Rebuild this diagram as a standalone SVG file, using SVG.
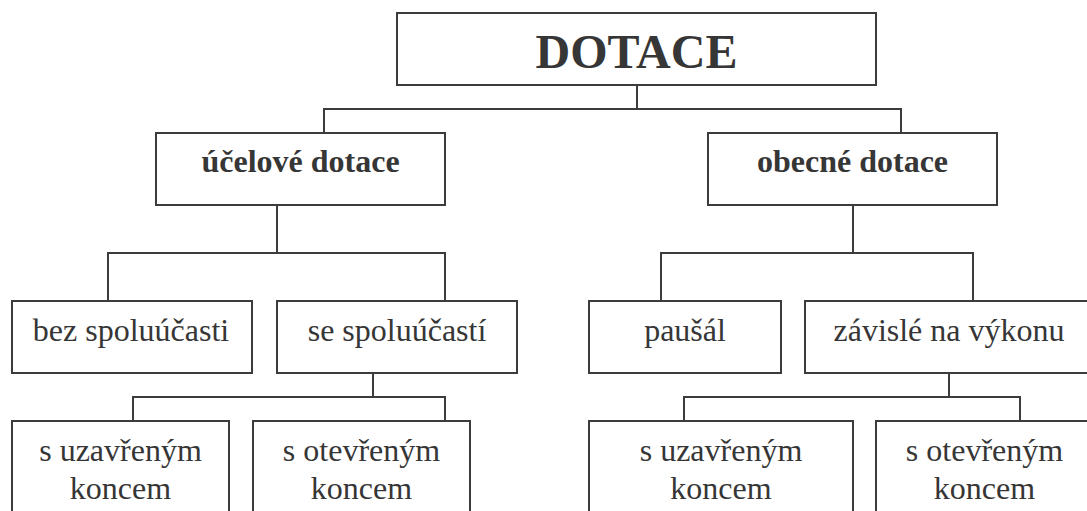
<svg xmlns="http://www.w3.org/2000/svg" width="1087" height="511" viewBox="0 0 1087 511">
<style>
.box{fill:#fff;stroke:#3c3c3c;stroke-width:2}
.c{fill:none;stroke:#3c3c3c;stroke-width:2}
.t{font-size:48px;font-weight:bold}
.b{font-size:32px;font-weight:bold}
.r{font-size:32px}
</style>
<rect width="1087" height="511" fill="#fff"/>
<g id="connectors">
<path class="c" d="M637 85V109M324 133V109H901V133"/>
<path class="c" d="M277 205V253M108 301V253H445V301"/>
<path class="c" d="M853 205V253M661 301V253H973V301"/>
<path class="c" d="M373 373V397M133 421V397H445V421"/>
<path class="c" d="M949 373V397M684 421V397H1020V421"/>
</g>
<g font-family="Liberation Serif, serif" fill="#363636" text-anchor="middle">
<g id="dotace"><rect class="box" x="397" y="13" width="479" height="72"/><text class="t" x="636.5" y="68">DOTACE</text></g>
<g id="ucelove"><rect class="box" x="156" y="133" width="289" height="72"/><text class="b" x="300.5" y="172">účelové dotace</text></g>
<g id="obecne"><rect class="box" x="708" y="133" width="289" height="72"/><text class="b" x="852.5" y="172">obecné dotace</text></g>
<g id="bez"><rect class="box" x="12" y="301" width="240" height="72"/><text class="r" x="131" y="341">bez spoluúčasti</text></g>
<g id="se"><rect class="box" x="277" y="301" width="240" height="72"/><text class="r" x="397" y="341">se spoluúčastí</text></g>
<g id="pausal"><rect class="box" x="589" y="301" width="192" height="72"/><text class="r" x="685" y="341">paušál</text></g>
<g id="zavisle"><rect class="box" x="805" y="301" width="288" height="72"/><text class="r" x="949" y="341">závislé na výkonu</text></g>
<g id="uzavreny1"><rect class="box" x="12" y="421" width="217" height="110"/><text class="r" x="120.5" y="461">s uzavřeným</text><text class="r" x="120.5" y="499">koncem</text></g>
<g id="otevreny1"><rect class="box" x="253" y="421" width="217" height="110"/><text class="r" x="361.5" y="461">s otevřeným</text><text class="r" x="361.5" y="499">koncem</text></g>
<g id="uzavreny2"><rect class="box" x="589" y="421" width="264" height="110"/><text class="r" x="721" y="461">s uzavřeným</text><text class="r" x="721" y="499">koncem</text></g>
<g id="otevreny2"><rect class="box" x="876" y="421" width="217" height="110"/><text class="r" x="984.5" y="461">s otevřeným</text><text class="r" x="984.5" y="499">koncem</text></g>
</g>
</svg>
